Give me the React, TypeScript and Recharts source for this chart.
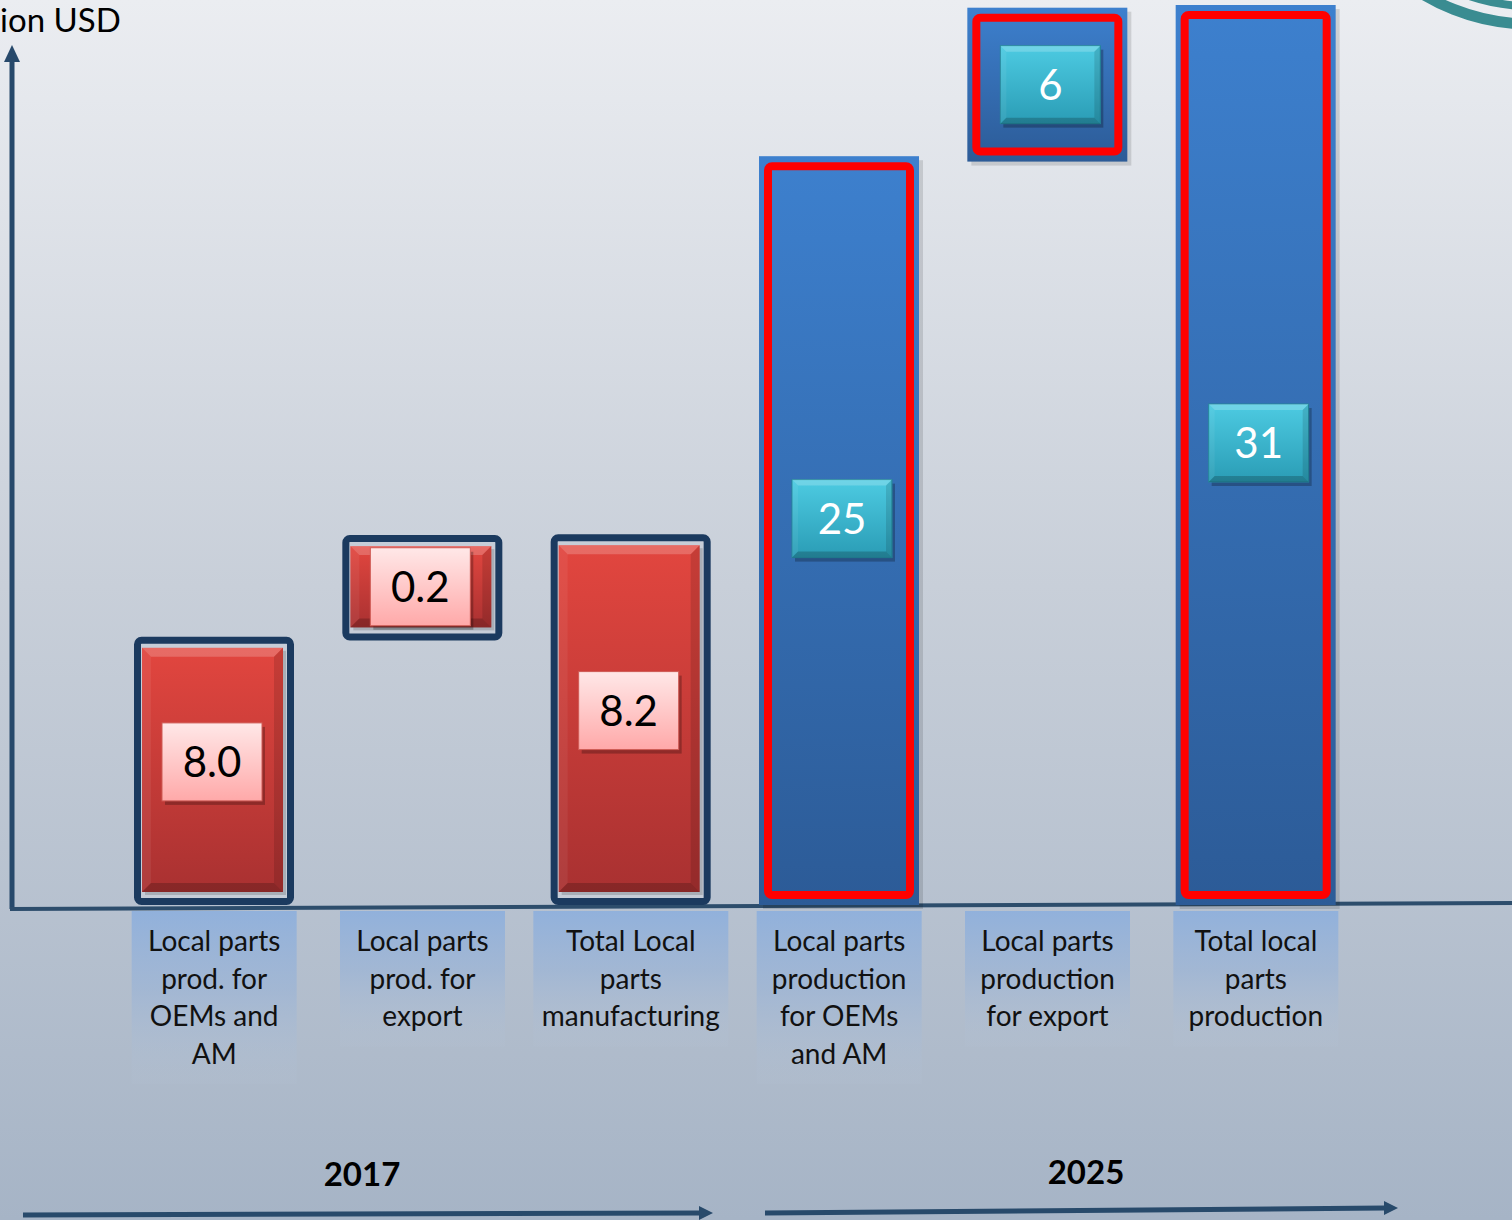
import { BarChart, Bar, XAxis, YAxis } from "recharts";

// category labels, one entry per bar (lines split on \n)
const categories = [
  "Local parts\nprod. for\nOEMs and\nAM",
  "Local parts\nprod. for\nexport",
  "Total Local\nparts\nmanufacturing",
  "Local parts\nproduction\nfor OEMs\nand AM",
  "Local parts\nproduction\nfor export",
  "Total local\nparts\nproduction",
];
const periods = ["2017", "2017", "2017", "2025", "2025", "2025"];
// values printed on the bars (billion USD)
const valueLabels = ["8.0", "0.2", "8.2", "25", "6", "31"];
// the chart is not drawn to scale: bar extents (0-100 of the axis height)
const barBottoms = [0, 29.4, 0, 0, 82.6, 0];
const barTops = [29.8, 41.1, 41.2, 83.2, 99.7, 100];
const unitLabel = "ion USD";
const yearLabels = ["2017", "2025"];

const data = categories.map((name, i) => ({
  name,
  period: periods[i],
  label: valueLabels[i],
  range: [barBottoms[i], barTops[i]],
}));

const FONT = "Lato, 'Open Sans', sans-serif";

function Bevel({ x, y, w, h, b }: any) {
  return (
    <g>
      <polygon points={`${x},${y} ${x + w},${y} ${x + w - b},${y + b} ${x + b},${y + b}`} fill="rgba(255,255,255,0.2)" />
      <polygon points={`${x},${y} ${x + b},${y + b} ${x + b},${y + h - b} ${x},${y + h}`} fill="rgba(255,255,255,0.06)" />
      <polygon points={`${x + w},${y} ${x + w},${y + h} ${x + w - b},${y + h - b} ${x + w - b},${y + b}`} fill="rgba(0,0,0,0.12)" />
      <polygon points={`${x},${y + h} ${x + w},${y + h} ${x + w - b},${y + h - b} ${x + b},${y + h - b}`} fill="rgba(0,0,0,0.2)" />
    </g>
  );
}

function ValueBox({ cx, cy, text, red }: any) {
  const bw = 100;
  const bh = 78;
  const x = cx - bw / 2;
  const y = cy - bh / 2;
  return (
    <g>
      <rect x={x + 3} y={y + 4} width={bw} height={bh} fill="rgba(0,0,0,0.25)" />
      <rect x={x} y={y} width={bw} height={bh} fill={red ? "url(#pinkBox)" : "url(#tealBox)"} stroke={red ? "#cf5b55" : "#23869b"} strokeWidth={1} />
      {!red && <Bevel x={x} y={y} w={bw} h={bh} b={6} />}
      <text x={cx} y={cy + 15} textAnchor="middle" fontFamily={FONT} fontSize={42} fill={red ? "#000" : "#fff"}>
        {text}
      </text>
    </g>
  );
}

function FancyBar(props: any) {
  const { x, y, width, height, payload } = props;
  const top = Math.min(y, y + height);
  const h = Math.abs(height);
  const w = width;
  const cx = x + w / 2;
  if (payload.period === "2017") {
    const rx = x + 8;
    const ry = top + 11;
    const rw = w - 19;
    const rh = h - 24;
    const cy = h < 200 ? ry + rh / 2 : ry + rh / 2 - 8;
    return (
      <g>
        <rect x={x + 3.5} y={top + 3.5} width={w - 7} height={h - 7} rx={4} fill="#c6cdd8" stroke="#1b3a5f" strokeWidth={7} />
        <rect x={rx + 3} y={ry + 3} width={rw} height={rh} fill="rgba(0,0,0,0.15)" />
        <rect x={rx} y={ry} width={rw} height={rh} fill="url(#redBar)" />
        <Bevel x={rx} y={ry} w={rw} h={rh} b={9} />
        <ValueBox cx={cx - 2} cy={cy} text={payload.label} red />
      </g>
    );
  }
  const cy = h < 200 ? top + h / 2 : top + h / 2 - 12;
  return (
    <g>
      <rect x={x + 4} y={top + 4} width={w} height={h} fill="rgba(0,0,0,0.12)" />
      <rect x={x} y={top} width={w} height={h} fill="url(#blueBar)" />
      <rect x={x + 9} y={top + 10} width={w - 18} height={h - 20} rx={4} fill="none" stroke="#ff0000" strokeWidth={8} />
      <ValueBox cx={cx + 3} cy={cy} text={payload.label} />
    </g>
  );
}

function CategoryTick({ x, y, payload }: any) {
  const lines = String(payload.value).split("\n");
  const longest = Math.max(...lines.map((l) => l.length));
  const bw = Math.max(156, longest * 15);
  const bh = lines.length * 37.5 + 23;
  const top = y + 6;
  return (
    <g>
      <rect x={x - bw / 2} y={top} width={bw} height={bh} fill="url(#tickBox)" />
      <text textAnchor="middle" fontFamily={FONT} fontSize={28} fill="#111">
        {lines.map((l, i) => (
          <tspan key={i} x={x} y={top + 40 + i * 37.5}>
            {l}
          </tspan>
        ))}
      </text>
    </g>
  );
}

export default function App() {
  const axisColor = "#27496b";
  return (
    <div style={{ position: "absolute", left: 0, top: 0, width: 1512, height: 1220, overflow: "hidden", background: "linear-gradient(#ebedf1 0%, #c8cfd9 48%, #a6b4c6 100%)" }}>
      <svg width={1512} height={1220} style={{ position: "absolute", left: 0, top: 0 }}>
        <defs>
          <linearGradient id="redBar" x1="0" y1="0" x2="0" y2="1">
            <stop offset="0%" stopColor="#e2463f" />
            <stop offset="100%" stopColor="#a93131" />
          </linearGradient>
          <linearGradient id="blueBar" x1="0" y1="0" x2="0" y2="1">
            <stop offset="0%" stopColor="#3d80ce" />
            <stop offset="100%" stopColor="#2c5b97" />
          </linearGradient>
          <linearGradient id="pinkBox" x1="0" y1="0" x2="0" y2="1">
            <stop offset="0%" stopColor="#ffe8e8" />
            <stop offset="100%" stopColor="#ffa9a9" />
          </linearGradient>
          <linearGradient id="tealBox" x1="0" y1="0" x2="0" y2="1">
            <stop offset="0%" stopColor="#4dcbe2" />
            <stop offset="100%" stopColor="#2a9cb5" />
          </linearGradient>
          <linearGradient id="tickBox" x1="0" y1="0" x2="0" y2="1">
            <stop offset="0%" stopColor="#8fb0dc" stopOpacity={0.95} />
            <stop offset="45%" stopColor="#9bb4d6" stopOpacity={0.7} />
            <stop offset="100%" stopColor="#b4c2d4" stopOpacity={0.15} />
          </linearGradient>
        </defs>
        {/* teal logo arc, top right */}
        <circle cx={1530} cy={-183} r={207} fill="none" stroke="#3a8c91" strokeWidth={11} />
        <circle cx={1530} cy={-183} r={189} fill="none" stroke="#3a8c91" strokeWidth={8} />
        {/* axes */}
        <line x1={12} y1={909} x2={12} y2={58} stroke={axisColor} strokeWidth={5} />
        <polygon points="12,45 4,62 20,62" fill={axisColor} />
        <line x1={10} y1={909} x2={1512} y2={903} stroke="#2d4d6c" strokeWidth={4} />
        <text x={0} y={32} fontFamily={FONT} fontSize={33} fill="#000">{unitLabel}</text>
        {/* period arrows */}
        <line x1={23} y1={1215} x2={700} y2={1213} stroke="#284a6b" strokeWidth={5} />
        <polygon points="713,1213 699,1206 699,1220" fill="#284a6b" />
        <line x1={765} y1={1213} x2={1385} y2={1208} stroke="#284a6b" strokeWidth={5} />
        <polygon points="1398,1208 1384,1201 1384,1215" fill="#284a6b" />
        <text x={362} y={1186} textAnchor="middle" fontFamily={FONT} fontWeight={700} fontSize={33} fill="#000">{yearLabels[0]}</text>
        <text x={1086} y={1184} textAnchor="middle" fontFamily={FONT} fontWeight={700} fontSize={33} fill="#000">{yearLabels[1]}</text>
      </svg>
      <div style={{ position: "absolute", left: 0, top: 0 }}>
        <BarChart width={1512} height={1220} data={data} margin={{ top: 5, right: 152, left: 110, bottom: 0 }} barSize={160}>
          <YAxis hide domain={[0, 100]} />
          <XAxis dataKey="name" interval={0} axisLine={false} tickLine={false} tickSize={0} tickMargin={0} height={315} tick={<CategoryTick />} />
          <Bar dataKey="range" shape={<FancyBar />} isAnimationActive={false} />
        </BarChart>
      </div>
    </div>
  );
}
